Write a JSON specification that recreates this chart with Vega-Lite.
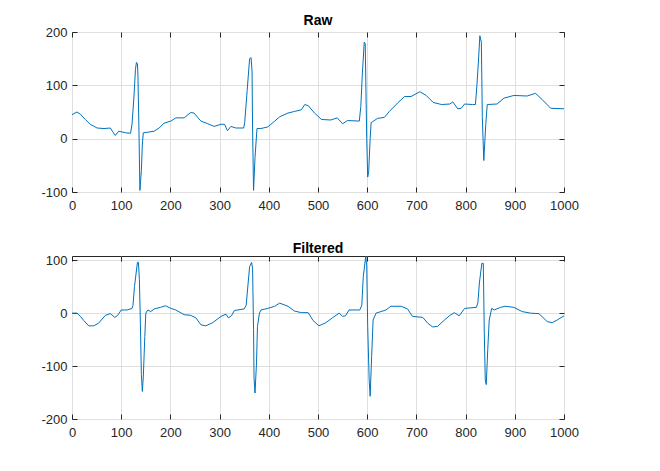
{
  "$schema": "https://vega.github.io/schema/vega-lite/v6.json",
  "background": "white",
  "padding": {"left": 6, "top": 13, "right": 5, "bottom": 5},
  "datasets": {
    "raw": [
      {"x":0,"y":45},{"x":10,"y":50},{"x":17,"y":46},{"x":27,"y":36},{"x":37,"y":27},{"x":51,"y":20},{"x":65,"y":19},{"x":78,"y":20},{"x":82,"y":14},{"x":88,"y":6},{"x":95,"y":14},{"x":109,"y":11},{"x":119,"y":10},{"x":122,"y":27},{"x":126,"y":80},{"x":129,"y":130},{"x":131,"y":143},{"x":133,"y":140},{"x":134,"y":119},{"x":136,"y":20},{"x":138,"y":-97},{"x":141,"y":-60},{"x":143,"y":-10},{"x":145,"y":11},{"x":153,"y":12},{"x":167,"y":14},{"x":177,"y":20},{"x":187,"y":29},{"x":201,"y":33},{"x":211,"y":39},{"x":228,"y":39},{"x":241,"y":49},{"x":248,"y":48},{"x":262,"y":33},{"x":276,"y":28},{"x":289,"y":23},{"x":303,"y":27},{"x":310,"y":27},{"x":316,"y":15},{"x":323,"y":23},{"x":333,"y":20},{"x":349,"y":20},{"x":351,"y":30},{"x":356,"y":90},{"x":361,"y":150},{"x":364,"y":152},{"x":366,"y":125},{"x":367,"y":20},{"x":369,"y":-97},{"x":372,"y":-35},{"x":376,"y":19},{"x":384,"y":19},{"x":398,"y":22},{"x":412,"y":33},{"x":422,"y":41},{"x":439,"y":48},{"x":452,"y":51},{"x":466,"y":54},{"x":473,"y":64},{"x":480,"y":62},{"x":493,"y":48},{"x":507,"y":36},{"x":526,"y":35},{"x":539,"y":39},{"x":550,"y":28},{"x":560,"y":34},{"x":584,"y":33},{"x":587,"y":60},{"x":590,"y":119},{"x":594,"y":181},{"x":596,"y":178},{"x":599,"y":0},{"x":601,"y":-72},{"x":603,"y":-62},{"x":606,"y":0},{"x":608,"y":30},{"x":621,"y":38},{"x":635,"y":40},{"x":645,"y":51},{"x":662,"y":67},{"x":676,"y":79},{"x":689,"y":79},{"x":707,"y":88},{"x":720,"y":81},{"x":734,"y":68},{"x":751,"y":64},{"x":768,"y":65},{"x":774,"y":69},{"x":784,"y":56},{"x":791,"y":57},{"x":798,"y":65},{"x":814,"y":64},{"x":820,"y":64},{"x":823,"y":100},{"x":826,"y":144},{"x":829,"y":193},{"x":832,"y":181},{"x":834,"y":40},{"x":837,"y":-41},{"x":841,"y":27},{"x":844,"y":64},{"x":864,"y":65},{"x":878,"y":76},{"x":898,"y":81},{"x":925,"y":80},{"x":942,"y":85},{"x":956,"y":73},{"x":973,"y":57},{"x":1000,"y":56}
    ],
    "filtered": [
      {"x":0,"y":0},{"x":10,"y":0},{"x":17,"y":-6},{"x":24,"y":-14},{"x":34,"y":-24},{"x":44,"y":-24},{"x":54,"y":-19},{"x":68,"y":-4},{"x":78,"y":-1},{"x":87,"y":-8},{"x":93,"y":-4},{"x":100,"y":6},{"x":112,"y":6},{"x":122,"y":9},{"x":124,"y":15},{"x":127,"y":50},{"x":133,"y":96},{"x":135,"y":96},{"x":137,"y":63},{"x":139,"y":-19},{"x":141,"y":-116},{"x":143,"y":-148},{"x":145,"y":-119},{"x":148,"y":-44},{"x":150,"y":0},{"x":154,"y":6},{"x":160,"y":3},{"x":167,"y":8},{"x":180,"y":11},{"x":190,"y":14},{"x":201,"y":9},{"x":211,"y":6},{"x":228,"y":-3},{"x":241,"y":-4},{"x":252,"y":-9},{"x":262,"y":-22},{"x":272,"y":-24},{"x":286,"y":-18},{"x":303,"y":-6},{"x":313,"y":-2},{"x":318,"y":-9},{"x":324,"y":-5},{"x":330,"y":5},{"x":350,"y":8},{"x":354,"y":15},{"x":361,"y":88},{"x":365,"y":96},{"x":367,"y":85},{"x":369,"y":-31},{"x":370,"y":-123},{"x":372,"y":-151},{"x":375,"y":-94},{"x":377,"y":-25},{"x":381,"y":0},{"x":384,"y":6},{"x":398,"y":9},{"x":412,"y":13},{"x":422,"y":19},{"x":439,"y":13},{"x":452,"y":4},{"x":466,"y":1},{"x":480,"y":1},{"x":490,"y":-14},{"x":502,"y":-24},{"x":516,"y":-18},{"x":529,"y":-9},{"x":543,"y":0},{"x":550,"y":-6},{"x":556,"y":-5},{"x":563,"y":6},{"x":585,"y":6},{"x":589,"y":15},{"x":592,"y":69},{"x":597,"y":107},{"x":599,"y":90},{"x":601,"y":-25},{"x":604,"y":-126},{"x":606,"y":-157},{"x":609,"y":-82},{"x":612,"y":-13},{"x":618,"y":0},{"x":628,"y":3},{"x":638,"y":6},{"x":648,"y":13},{"x":669,"y":13},{"x":682,"y":8},{"x":692,"y":-6},{"x":713,"y":-8},{"x":723,"y":-19},{"x":733,"y":-26},{"x":743,"y":-25},{"x":757,"y":-13},{"x":767,"y":-5},{"x":777,"y":1},{"x":787,"y":-5},{"x":798,"y":9},{"x":822,"y":11},{"x":825,"y":20},{"x":828,"y":57},{"x":833,"y":94},{"x":836,"y":94},{"x":838,"y":-38},{"x":840,"y":-126},{"x":842,"y":-135},{"x":845,"y":-69},{"x":848,"y":-13},{"x":853,"y":9},{"x":858,"y":6},{"x":871,"y":11},{"x":881,"y":13},{"x":898,"y":11},{"x":915,"y":3},{"x":932,"y":0},{"x":949,"y":-1},{"x":966,"y":-16},{"x":976,"y":-18},{"x":986,"y":-13},{"x":1000,"y":-5}
    ]
  },
  "config": {
    "view": {"stroke": "#262626", "strokeWidth": 1},
    "axis": {
      "labelFont": "Liberation Sans", "labelFontSize": 13, "labelColor": "#262626",
      "domain": false, "gridColor": "#dfdfdf", "gridWidth": 1,
      "tickColor": "#262626", "tickSize": -5, "title": null,
      "labelFlush": false, "labelOverlap": false,
      "labelExpr": "'' + datum.value"
    },
    "axisBottom": {"labelPadding": 12},
    "axisLeft": {"labelPadding": 10, "minExtent": 65, "maxExtent": 65},
    "axisTop": {"labelPadding": 0, "minExtent": 0, "maxExtent": 0},
    "axisRight": {"labelPadding": 0, "minExtent": 0, "maxExtent": 0},
    "title": {"font": "Liberation Sans", "fontSize": 14, "fontWeight": "bold", "color": "#000000", "offset": -2},
    "concat": {"spacing": 28}
  },
  "vconcat": [
    {
      "title": "Raw",
      "width": 492, "height": 160,
      "data": {"name": "raw"},
      "layer": [
        {
          "mark": {"type": "line", "color": "#0072BD", "strokeWidth": 1},
          "encoding": {
            "x": {"field": "x", "type": "quantitative", "scale": {"domain": [0, 1000], "nice": false, "zero": false},
                  "axis": {"orient": "bottom", "values": [0,100,200,300,400,500,600,700,800,900,1000]}},
            "y": {"field": "y", "type": "quantitative", "scale": {"domain": [-100, 200], "nice": false, "zero": false},
                  "axis": {"orient": "left", "values": [-100, 0, 100, 200]}}
          }
        },
        {
          "mark": {"type": "line", "opacity": 0},
          "encoding": {
            "x": {"field": "x", "type": "quantitative", "scale": {"domain": [0, 1000], "nice": false, "zero": false},
                  "axis": {"orient": "top", "labels": false, "grid": false, "values": [0,100,200,300,400,500,600,700,800,900,1000]}},
            "y": {"field": "y", "type": "quantitative", "scale": {"domain": [-100, 200], "nice": false, "zero": false},
                  "axis": {"orient": "right", "labels": false, "grid": false, "values": [-100, 0, 100, 200]}}
          }
        }
      ],
      "resolve": {"axis": {"x": "independent", "y": "independent"}}
    },
    {
      "title": "Filtered",
      "width": 492, "height": 163,
      "data": {"name": "filtered"},
      "layer": [
        {
          "mark": {"type": "line", "color": "#0072BD", "strokeWidth": 1},
          "encoding": {
            "x": {"field": "x", "type": "quantitative", "scale": {"domain": [0, 1000], "nice": false, "zero": false},
                  "axis": {"orient": "bottom", "values": [0,100,200,300,400,500,600,700,800,900,1000]}},
            "y": {"field": "y", "type": "quantitative", "scale": {"domain": [-200, 108], "nice": false, "zero": false},
                  "axis": {"orient": "left", "values": [-200, -100, 0, 100]}}
          }
        },
        {
          "mark": {"type": "line", "opacity": 0},
          "encoding": {
            "x": {"field": "x", "type": "quantitative", "scale": {"domain": [0, 1000], "nice": false, "zero": false},
                  "axis": {"orient": "top", "labels": false, "grid": false, "values": [0,100,200,300,400,500,600,700,800,900,1000]}},
            "y": {"field": "y", "type": "quantitative", "scale": {"domain": [-200, 108], "nice": false, "zero": false},
                  "axis": {"orient": "right", "labels": false, "grid": false, "values": [-200, -100, 0, 100]}}
          }
        }
      ],
      "resolve": {"axis": {"x": "independent", "y": "independent"}}
    }
  ]
}
